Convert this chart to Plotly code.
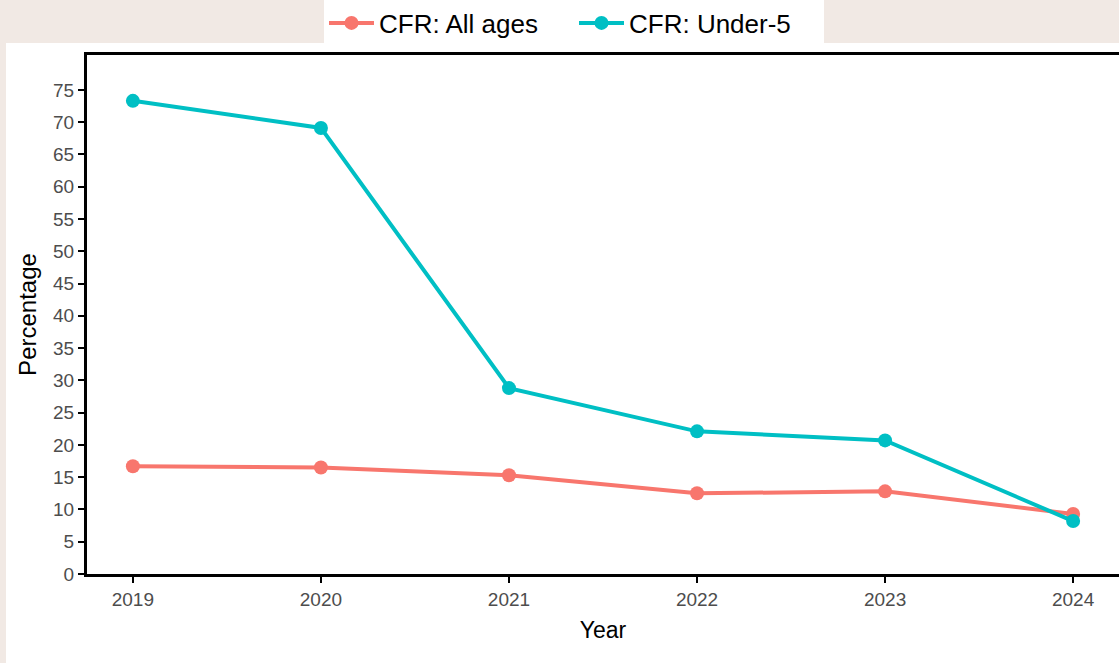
import plotly.graph_objects as go

years = [2019, 2020, 2021, 2022, 2023, 2024]
cfr_all_ages = [16.7, 16.5, 15.3, 12.5, 12.8, 9.3]
cfr_under5 = [73.3, 69.1, 28.8, 22.1, 20.7, 8.2]
y_ticks = list(range(0, 80, 5))

fig = go.Figure()
fig.add_trace(go.Scatter(x=years, y=cfr_all_ages, mode="lines+markers", name="CFR: All ages",
                         line=dict(color="#F8766D", width=4), marker=dict(size=14, color="#F8766D")))
fig.add_trace(go.Scatter(x=years, y=cfr_under5, mode="lines+markers", name="CFR: Under-5",
                         line=dict(color="#00BFC4", width=4), marker=dict(size=14, color="#00BFC4")))

W, H = 1119, 663
l, r, t, b = 87, 0, 55, 89
pw, ph = W - l - r, H - t - b

def px_x(px):
    return (px - l) / pw

def px_y(py):
    return (H - b - py) / ph

fig.add_shape(type="rect", xref="paper", yref="paper", layer="below",
              x0=px_x(6), x1=px_x(1125), y0=px_y(670), y1=px_y(43),
              fillcolor="white", line=dict(width=0))

fig.update_layout(
    width=W, height=H,
    margin=dict(l=l, r=r, t=t, b=b, autoexpand=False),
    paper_bgcolor="#f1e9e4",
    plot_bgcolor="white",
    font=dict(family="Liberation Sans, Arial, sans-serif"),
    showlegend=True,
    legend=dict(orientation="h", x=px_x(574), xanchor="center", y=px_y(23), yanchor="middle",
                bgcolor="white", font=dict(size=26, color="black"), itemwidth=45,
                entrywidth=190, entrywidthmode="pixels", tracegroupgap=0),
    xaxis=dict(range=[2018.756, 2024.244], tickvals=years, ticktext=[str(v) for v in years],
               showgrid=False, zeroline=False, showline=True, linecolor="black", linewidth=3,
               mirror=True, ticks="outside", ticklen=6, tickwidth=2, tickcolor="black",
               tickfont=dict(size=19, color="#4d4d4d"),
               title=dict(text="Year", font=dict(size=23, color="black"), standoff=14)),
    yaxis=dict(range=[0, 80.4], tickvals=y_ticks, showgrid=False, zeroline=False,
               showline=True, linecolor="black", linewidth=3, ticks="outside", ticklen=6,
               tickwidth=2, tickcolor="black", tickfont=dict(size=19, color="#4d4d4d"),
               title=dict(text="Percentage", font=dict(size=24, color="black"), standoff=10)),
)

fig.write_html("out.html", config={"displayModeBar": False},
               post_script="document.body.style.margin='0';document.body.style.overflow='hidden';")
